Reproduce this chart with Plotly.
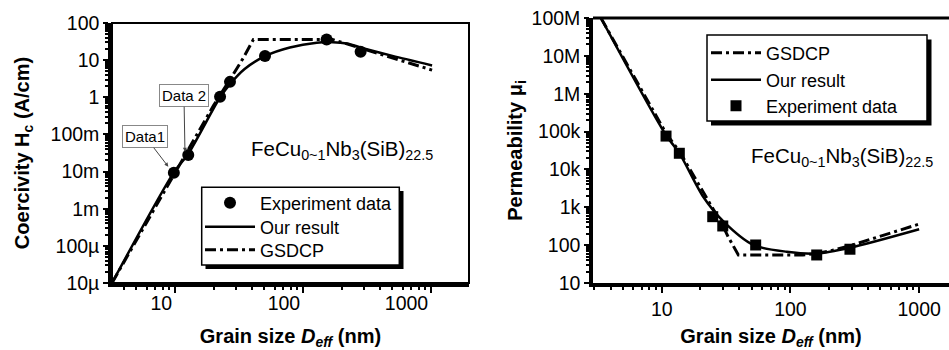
import math
import plotly.graph_objects as go

# ---------------- Data ----------------
# Left panel: coercivity vs grain size
exp_D_left = [9.8, 12.7, 22.5, 26.9, 50.5, 153, 282]
exp_Hc = [0.0093, 0.028, 1.04, 2.6, 12.9, 36, 16.9]
our_D_left = [3.22, 9.8, 12.7, 22.5, 27, 35, 50.5, 79, 128, 171, 220, 294, 500, 1020]
our_Hc = [1e-5, 9.5e-3, 0.03, 1.0, 2.3, 5.8, 12.9, 22, 29.5, 30.5, 28, 21, 13, 7.2]
gsdcp_D_left = [3.22, 10, 20, 28.6, 34.2, 41, 170, 300, 500, 1020]
gsdcp_Hc = [1e-5, 0.0095, 0.6, 4.2, 11.5, 36, 36, 19.7, 11.4, 5.4]

# Right panel: permeability vs grain size
exp_D_right = [10.8, 13.7, 24.9, 29.8, 53.7, 160, 290]
exp_mu = [7.6e4, 2.67e4, 565, 321, 101, 55, 78]
our_D_right = [3.37, 10.8, 13.7, 21, 30, 51.5, 93.5, 160, 290, 1000]
our_mu = [1e8, 8e4, 2.7e4, 1.9e3, 430, 101, 67, 60, 85, 262]
gsdcp_D_right = [3.37, 10.8, 13.7, 25, 29.8, 32.8, 39.4, 125, 160, 220, 300, 1000]
gsdcp_mu = [1e8, 9e4, 3e4, 900, 330, 167, 55, 55, 60, 75, 100, 360]

# Tick labels
x_tickvals = [10, 100, 1000]
x_ticktext = ["10", "100", "1000"]
hc_tickvals = [1e-5, 1e-4, 1e-3, 1e-2, 1e-1, 1, 10, 100]
hc_ticktext = ["10µ", "100µ", "1m", "10m", "100m", "1", "10", "100"]
mu_tickvals = [10, 100, 1e3, 1e4, 1e5, 1e6, 1e7, 1e8]
mu_ticktext = ["10", "100", "1k", "10k", "100k", "1M", "10M", "100M"]

W, H = 949, 350
FONT = "Arial, Liberation Sans, Helvetica, sans-serif"
DASH = "11px,4px,3px,4px"


def minor_vals(lo_exp, hi_exp):
    vals = []
    for e in range(lo_exp, hi_exp + 1):
        for m in range(2, 10):
            vals.append(m * 10 ** e)
    return vals


def px(x):
    return x / W


def py(y):
    return 1 - y / H


fig = go.Figure()

# Left panel traces (each legend entry lives in its own legend box for exact spacing)
fig.add_trace(go.Scatter(x=exp_D_left, y=exp_Hc, mode="markers", name="Experiment data",
                         marker=dict(symbol="circle", size=12, color="black"),
                         xaxis="x", yaxis="y", legend="legend"))
fig.add_trace(go.Scatter(x=our_D_left, y=our_Hc, mode="lines", name="Our result",
                         line=dict(color="black", width=2.5, shape="spline", smoothing=0.8),
                         xaxis="x", yaxis="y", legend="legend3"))
fig.add_trace(go.Scatter(x=gsdcp_D_left, y=gsdcp_Hc, mode="lines", name="GSDCP",
                         line=dict(color="black", width=3, dash=DASH),
                         xaxis="x", yaxis="y", legend="legend4"))

# Right panel traces
fig.add_trace(go.Scatter(x=gsdcp_D_right, y=gsdcp_mu, mode="lines", name="GSDCP",
                         line=dict(color="black", width=3, dash=DASH),
                         xaxis="x2", yaxis="y2", legend="legend2"))
fig.add_trace(go.Scatter(x=our_D_right, y=our_mu, mode="lines", name="Our result",
                         line=dict(color="black", width=2.5, shape="spline", smoothing=0.8),
                         xaxis="x2", yaxis="y2", legend="legend5"))
fig.add_trace(go.Scatter(x=exp_D_right, y=exp_mu, mode="markers", name="Experiment data",
                         marker=dict(symbol="square", size=11, color="black"),
                         xaxis="x2", yaxis="y2", legend="legend6"))

common_axis = dict(type="log", showline=True, linecolor="black", linewidth=3.5,
                   showgrid=False, zeroline=False, ticks="outside", tickcolor="black",
                   tickwidth=2, tickfont=dict(family=FONT, size=19.5, color="black"),
                   tickmode="array", automargin=False)

title_font = dict(family=FONT, size=20, color="black")


def legend_box(x, y):
    return dict(x=px(x), y=py(y), xanchor="left", yanchor="middle",
                bgcolor="rgba(0,0,0,0)", borderwidth=0,
                font=dict(family=FONT, size=18, color="black"),
                itemwidth=50, tracegroupgap=0)


fig.update_layout(
    width=W, height=H,
    margin=dict(l=0, r=0, t=0, b=0, autoexpand=False),
    paper_bgcolor="white", plot_bgcolor="white",
    font=dict(family=FONT, color="black"),
    xaxis=dict(common_axis, domain=[px(112), px(469)], range=[0.508, 3.297],
               tickvals=x_tickvals, ticktext=x_ticktext, ticklen=6,
               ticklabelposition="outside left", ticklabelstandoff=0,
               minor=dict(tickmode="array", tickvals=minor_vals(0, 3), ticks="outside",
                          ticklen=3.5, tickwidth=1.5, tickcolor="black", showgrid=False),
               title=dict(text="<b>Grain size <i>D</i><sub><i>eff</i></sub> (nm)</b>",
                          font=title_font, standoff=17),
               anchor="y"),
    yaxis=dict(common_axis, domain=[py(283), py(23)], range=[-5, 2],
               tickvals=hc_tickvals, ticktext=hc_ticktext, ticklen=5,
               minor=dict(tickmode="array", tickvals=minor_vals(-5, 1), ticks="outside",
                          ticklen=3, tickwidth=1.5, tickcolor="black", showgrid=False),
               title=dict(text="<b>Coercivity H<sub>c</sub> (A/cm)</b>", font=title_font,
                          standoff=17),
               anchor="x"),
    xaxis2=dict(common_axis, domain=[px(593), 1.0], range=[0.466, 3.232],
                tickvals=x_tickvals, ticktext=x_ticktext, ticklen=6, ticklabelstandoff=0,
                minor=dict(tickmode="array", tickvals=minor_vals(0, 3), ticks="outside",
                           ticklen=3.5, tickwidth=1.5, tickcolor="black", showgrid=False),
                title=dict(text="<b>Grain size <i>D</i><sub><i>eff</i></sub> (nm)</b>",
                           font=title_font, standoff=17),
                anchor="y2"),
    yaxis2=dict(common_axis, domain=[py(283), py(18)], range=[1, 8],
                tickvals=mu_tickvals, ticktext=mu_ticktext, ticklen=5,
                minor=dict(tickmode="array", tickvals=minor_vals(1, 7), ticks="outside",
                           ticklen=3, tickwidth=1.5, tickcolor="black", showgrid=False),
                title=dict(text="<b>Permeability μ<sub>i</sub></b>", font=title_font,
                           standoff=5),
                anchor="x2"),
    legend=legend_box(200, 203),
    legend3=legend_box(200, 227),
    legend4=legend_box(200, 250),
    legend2=legend_box(706, 53),
    legend5=legend_box(706, 80),
    legend6=legend_box(706, 106),
    showlegend=True,
)

# Frames (thin top/right borders) and legend boxes with drop shadows
shapes = [
    dict(type="rect", xref="x domain", yref="y domain", x0=0, x1=1, y0=0, y1=1,
         line=dict(color="black", width=2), layer="below"),
    dict(type="line", xref="x2 domain", yref="y2 domain", x0=0, x1=1, y0=1, y1=1,
         line=dict(color="black", width=3), layer="below"),
    # left legend shadow + box
    dict(type="rect", xref="paper", yref="paper", x0=px(205.5), x1=px(403.5),
         y0=py(269), y1=py(191), fillcolor="black", line=dict(width=0), layer="above"),
    dict(type="rect", xref="paper", yref="paper", x0=px(201.7), x1=px(399.3),
         y0=py(265), y1=py(187.3), fillcolor="white", line=dict(color="black", width=1.5),
         layer="above"),
    # right legend shadow + box
    dict(type="rect", xref="paper", yref="paper", x0=px(711), x1=px(931.5),
         y0=py(125.5), y1=py(39.5), fillcolor="black", line=dict(width=0), layer="above"),
    dict(type="rect", xref="paper", yref="paper", x0=px(707), x1=px(927),
         y0=py(121), y1=py(35), fillcolor="white", line=dict(color="black", width=1.5),
         layer="above"),
]
fig.update_layout(shapes=shapes)

formula = "FeCu<sub>0~1</sub>Nb<sub>3</sub>(SiB)<sub>22.5</sub>"
annotations = [
    dict(text=formula, xref="paper", yref="paper", x=px(249), y=py(150),
         xanchor="left", yanchor="middle", showarrow=False,
         font=dict(family=FONT, size=20.5, color="black")),
    dict(text=formula, xref="paper", yref="paper", x=px(749), y=py(157),
         xanchor="left", yanchor="middle", showarrow=False,
         font=dict(family=FONT, size=20.5, color="black")),
    dict(text="Data1", xref="x", yref="y", x=math.log10(8.87), y=math.log10(0.0135),
         ax=-23, ay=-30, showarrow=True, arrowhead=2, arrowsize=0.8, arrowwidth=1,
         arrowcolor="#444", bordercolor="#888", borderwidth=1, borderpad=2,
         bgcolor="white", font=dict(family=FONT, size=15, color="black"), standoff=0),
    dict(text="Data 2", xref="x", yref="y", x=math.log10(11.97), y=math.log10(0.0343),
         ax=-1, ay=-56, showarrow=True, arrowhead=2, arrowsize=0.8, arrowwidth=1,
         arrowcolor="#444", bordercolor="#888", borderwidth=1, borderpad=2,
         bgcolor="white", font=dict(family=FONT, size=15, color="black"), standoff=0),
]
fig.update_layout(annotations=annotations)

fig.write_html("out.html")
